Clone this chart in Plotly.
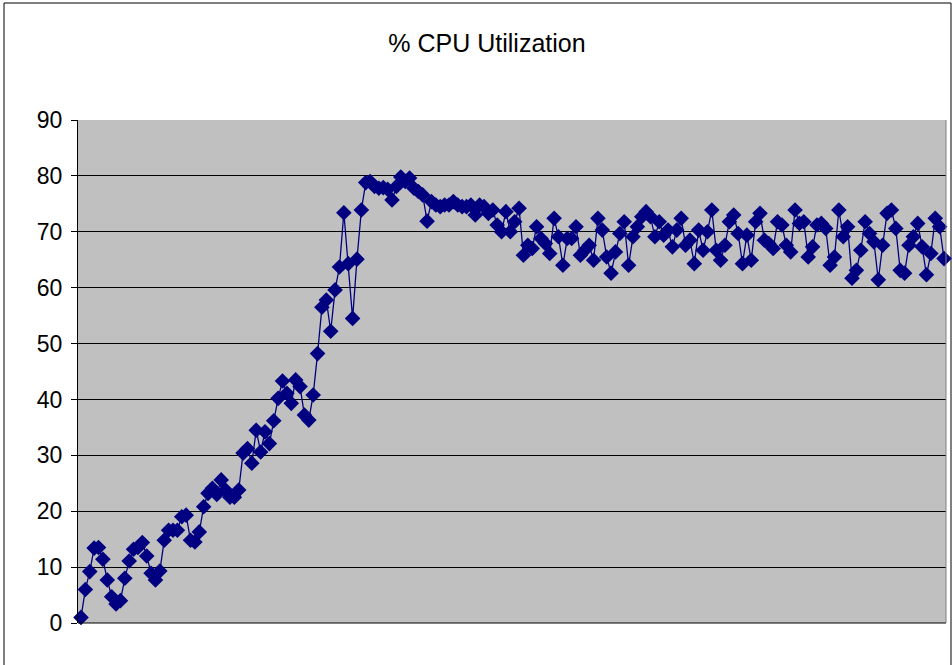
import plotly.graph_objects as go

title_text = "% CPU Utilization"

cpu_values = [
    1, 6, 9.2, 13.4, 13.5, 11.4, 7.7, 4.7, 3.4, 4.0,
    8.0, 11.1, 13.2, 13.5, 14.4, 12.0, 8.9, 7.7, 9.3, 14.8,
    16.6, 16.6, 16.6, 19.0, 19.3, 14.8, 14.5, 16.3, 20.8, 23.2,
    24.1, 23.0, 25.6, 23.8, 22.5, 22.5, 23.8, 30.4, 31.2, 28.6,
    34.5, 30.6, 34.2, 32.1, 36.2, 40.2, 43.3, 41.1, 39.3, 43.5,
    42.3, 37.2, 36.3, 40.8, 48.2, 56.5, 57.8, 52.2, 59.6, 63.7,
    73.4, 64.3, 54.5, 65.1, 73.9, 78.8, 79.0, 78.1, 77.8, 77.9,
    77.6, 75.7, 78.1, 79.8, 79.0, 79.6, 77.8, 77.2, 76.6, 71.9,
    75.4, 74.8, 74.5, 74.8, 74.8, 75.4, 74.8, 74.5, 74.5, 74.8,
    73.0, 74.8, 74.5, 73.3, 73.9, 71.2, 70.0, 73.6, 70.0, 71.8,
    74.2, 65.8, 67.6, 67.0, 70.9, 68.8, 67.9, 66.1, 72.4, 69.1,
    64.0, 68.8, 68.8, 70.9, 65.8, 66.7, 67.6, 64.9, 72.4, 70.3,
    65.5, 62.6, 66.4, 69.7, 71.8, 64.0, 69.1, 70.9, 72.7, 73.6,
    72.7, 69.1, 71.8, 69.4, 70.3, 67.3, 70.3, 72.4, 67.6, 68.5,
    64.3, 70.3, 66.7, 70.0, 73.9, 66.7, 64.9, 67.6, 71.8, 73.0,
    69.7, 64.3, 69.4, 64.9, 71.8, 73.3, 68.5, 67.9, 67.0, 71.8,
    71.2, 67.6, 66.4, 73.9, 71.5, 71.8, 65.5, 67.3, 71.2, 71.5,
    70.6, 64.0, 65.5, 73.9, 69.1, 70.9, 61.7, 63.1, 66.7, 71.8,
    69.7, 68.2, 61.4, 67.6, 73.3, 73.9, 70.6, 63.1, 62.6, 67.6,
    69.1, 71.5, 67.3, 62.3, 66.1, 72.4, 70.9, 65.2,
]

y_ticks = [0, 10, 20, 30, 40, 50, 60, 70, 80, 90]

N = len(cpu_values)
x_idx = list(range(N))

# pixel geometry
L, R, T, B = 78, 946, 120, 623
W, H = 952, 665
first_px, last_px = 81, 944
ppi = (last_px - first_px) / (N - 1)
x0 = -(first_px - L) / ppi
x1 = (N - 1) + (R - last_px) / ppi

fig = go.Figure()
fig.add_trace(go.Scatter(
    x=x_idx, y=cpu_values, mode="lines+markers",
    line=dict(color="#000080", width=1.3),
    marker=dict(symbol="diamond", size=12, color="#000080",
                line=dict(width=0)),
    cliponaxis=False, showlegend=False,
))

def px_to_paper_x(px):
    return (px - L) / (R - L)

def px_to_paper_y(py):
    return (B - py) / (B - T)

fig.update_layout(
    width=W, height=H,
    margin=dict(l=L, r=W - R, t=T, b=H - B, autoexpand=False),
    paper_bgcolor="white",
    plot_bgcolor="#C0C0C0",
    font=dict(family="Liberation Sans, Arial, sans-serif", color="black"),
    title=dict(text=title_text, x=px_to_paper_x(487), xref="paper",
               xanchor="center", y=1 - 43 / H, yanchor="middle",
               automargin=False,
               font=dict(size=25, color="black")),
    xaxis=dict(range=[x0, x1], showgrid=False, showticklabels=False,
               zeroline=False, showline=False, ticks="", automargin=False),
    yaxis=dict(range=[0, 90], tickvals=y_ticks, showgrid=True,
               gridcolor="black", gridwidth=1, zeroline=False,
               showline=True, linecolor="black", linewidth=1,
               ticks="outside", ticklen=6, tickcolor="black",
               automargin=False,
               tickfont=dict(size=23, color="black"), ticklabelstandoff=4),
    shapes=[
        dict(type="rect", xref="paper", yref="paper",
             x0=px_to_paper_x(4), x1=px_to_paper_x(951),
             y0=px_to_paper_y(670), y1=px_to_paper_y(3),
             line=dict(color="black", width=1), fillcolor="rgba(0,0,0,0)",
             layer="below"),
        dict(type="line", xref="paper", yref="paper",
             x0=0, x1=1, y0=0, y1=0, line=dict(color="black", width=1)),
        dict(type="line", xref="paper", yref="paper",
             x0=1, x1=1, y0=0, y1=1, line=dict(color="#808080", width=1)),
    ],
)

fig.write_html(
    "out.html",
    config={"displayModeBar": False},
    post_script="document.body.style.margin='0';document.body.style.overflow='hidden';",
)
